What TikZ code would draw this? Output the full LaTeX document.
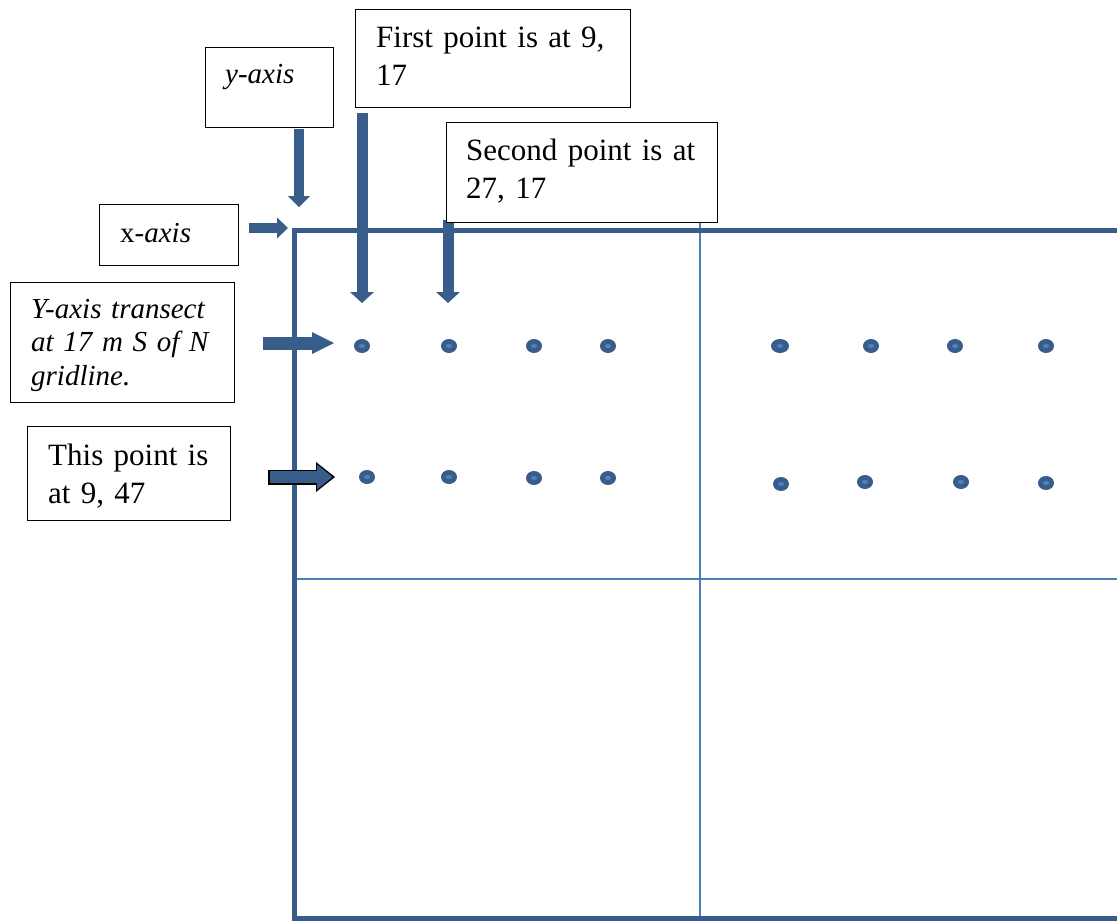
\documentclass[tikz,border=0pt]{standalone}
\usepackage{fontspec}
\setmainfont{Liberation Serif}
\usetikzlibrary{arrows.meta,shapes.geometric,calc}
\definecolor{dkblue}{HTML}{385D8A}
\definecolor{ltblue}{HTML}{4A7EBB}
\definecolor{ctrblue}{HTML}{4F81BD}
\begin{document}
\begin{tikzpicture}[x=1pt,y=-1pt,
  frameline/.style={draw=dkblue, line width=5pt, line join=miter},
  gridline/.style={draw=ltblue, line width=1.8pt},
  box/.style={draw=black, line width=1.3pt, fill=white, rectangle, inner sep=0pt, anchor=north west},
  lbl/.style={anchor=base west, inner sep=0pt, text width=300pt, align=left},
  big/.style={font=\fontsize{31}{38}\selectfont},
  small/.style={font=\fontsize{29}{33.5}\selectfont\itshape},
  smallup/.style={font=\fontsize{29}{33.5}\selectfont},
  blkarrow/.style={draw=dkblue, line width=#1},
  dotnode/.style={ellipse, fill=dkblue, minimum width=16pt, minimum height=14pt, inner sep=0pt}
]
\useasboundingbox (0,0) rectangle (1117,921);

% grid
\coordinate (vtop) at (700,222);
\coordinate (vbot) at (700,918);
\coordinate (hl) at (294,579);
\coordinate (hr) at (1117,579);
\draw[gridline] (vtop) -- (vbot);
\draw[gridline] (hl) -- (hr);

% frame
\coordinate (TL) at (294,230);
\coordinate (TR) at (1117,230);
\coordinate (BL) at (294,918);
\coordinate (BR) at (1117,918);
\draw[frameline] (TR) -- (TL) -- (BL) -- (BR);

% dots
\foreach \x/\y/\w [count=\i] in {362/346/16, 449/346/16, 534/346/16, 608/346/16, 780/346/18, 871/346/16, 955/346/16, 1046/346/16, 367/477/16, 449/477/16, 534/478/16, 608/478/16, 781/484/16, 865/482/16, 961/482/16, 1046/483/16} {
  \node[dotnode, minimum width=\w pt] (d\i) at (\x,\y) {};
  \fill[ctrblue] (d\i.center) ellipse (3.2pt and 2pt);
}

% arrow end points
\coordinate (ya0) at (299,129);  \coordinate (ya1) at (299,207);
\coordinate (xa0) at (249,228);  \coordinate (xa1) at (288,228);
\coordinate (fa0) at (362,113);  \coordinate (fa1) at (362,303);
\coordinate (sa0) at (448,220);  \coordinate (sa1) at (448,303);
\coordinate (ta0) at (263,343);  \coordinate (ta1) at (334,343);
\coordinate (pa0) at (268,477);  \coordinate (pa1) at (335,477);
\coordinate (pb0) at (269.5,477); \coordinate (pb1) at (332.5,477);

\draw[blkarrow=10pt, -{Triangle[width=22pt,length=11pt,line width=0pt]}] (ya0) -- (ya1);
\draw[blkarrow=10pt, -{Triangle[width=21pt,length=11pt,line width=0pt]}] (xa0) -- (xa1);
\draw[blkarrow=11pt, -{Triangle[width=24pt,length=11pt,line width=0pt]}] (fa0) -- (fa1);
\draw[blkarrow=11pt, -{Triangle[width=24pt,length=11pt,line width=0pt]}] (sa0) -- (sa1);
\draw[blkarrow=13pt, -{Triangle[width=22pt,length=22pt,line width=0pt]}] (ta0) -- (ta1);
\draw[draw=black, line width=15pt, -{Triangle[width=30pt,length=19pt,line width=0pt]}] (pa0) -- (pa1);
\draw[blkarrow=12pt, -{Triangle[width=25pt,length=15.5pt,line width=0pt]}] (pb0) -- (pb1);

% boxes
\node[box, minimum width=128pt, minimum height=80pt] (ybox) at (205,47) {};
\node[box, minimum width=275pt, minimum height=98pt] (firstbox) at (355,9) {};
\node[box, minimum width=271pt, minimum height=100pt] (secondbox) at (446,122) {};
\node[box, minimum width=139pt, minimum height=61pt] (xbox) at (99,204) {};
\node[box, minimum width=224pt, minimum height=120pt] (transbox) at (10,282) {};
\node[box, minimum width=203pt, minimum height=94pt] (thisbox) at (27,426) {};

% texts
\node[lbl, small] (ytxt) at (225,83) {y-axis};
\node[lbl, smallup] (xtxt) at (120,242) {x-\textit{axis}};
\node[lbl, big] (firsttxt) at (376,47) {First point is at 9,\\17};
\node[lbl, big] (secondtxt) at (466,160) {Second point is at\\27, 17};
\node[lbl, small] (transtxt) at (31,318) {Y-axis transect\\at 17 m S of N\\gridline.};
\node[lbl, big] (thistxt) at (48,465) {This point is\\at 9, 47};
\end{tikzpicture}
\end{document}
